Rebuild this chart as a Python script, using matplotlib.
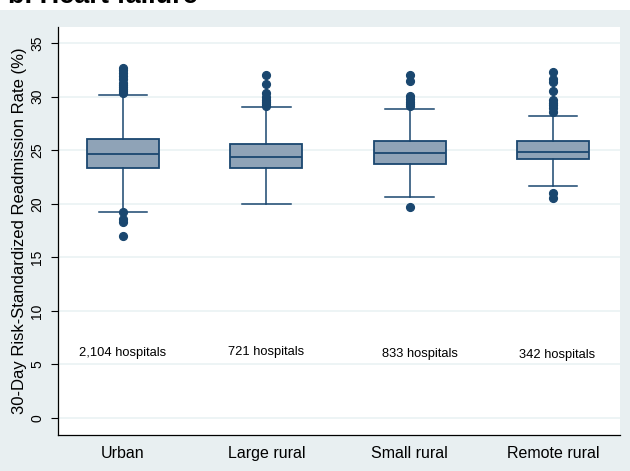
import matplotlib.pyplot as plt
from matplotlib.patches import Rectangle

plt.rcParams['font.family'] = ['Liberation Sans', 'DejaVu Sans']

# Data
groups = ['Urban', 'Large rural', 'Small rural', 'Remote rural']
q1 = [23.36, 23.30, 23.70, 24.14]
med = [24.64, 24.39, 24.73, 24.80]
q3 = [26.07, 25.55, 25.85, 25.88]
whislo = [19.23, 19.94, 20.60, 21.65]
whishi = [30.15, 29.00, 28.84, 28.16]
fliers = [
    [30.3, 30.5, 30.7, 30.9, 31.1, 31.3, 31.6, 31.9, 32.2, 32.5, 32.7,
     19.2, 18.6, 18.3, 17.0],
    [29.1, 29.3, 29.5, 29.7, 30.0, 30.3, 31.2, 32.0],
    [29.1, 29.3, 29.5, 29.8, 30.1, 31.5, 32.0, 19.7],
    [28.6, 28.9, 29.2, 29.4, 29.7, 30.55, 31.4, 31.65, 32.27, 21.03, 20.5],
]
n_labels = ['2,104 hospitals', '721 hospitals', '833 hospitals', '342 hospitals']
n_label_x = [1.0, 2.0, 3.07, 4.03]
n_label_y = [6.07, 6.15, 5.97, 5.88]

navy = '#1a476f'
fill = '#8fa3b7'
bg = '#e8eff1'

fig = plt.figure(figsize=(6.3, 4.71), dpi=100, facecolor='white')
fig.patches.append(Rectangle((0, 0), 1, 1 - 10 / 471, transform=fig.transFigure,
                             facecolor=bg, edgecolor='none', zorder=-10))
fig.text(8 / 630, 1 - 3 / 471, 'b. Heart failure', fontsize=19.5,
         fontweight='bold', va='baseline', ha='left')

ax = fig.add_axes([58 / 630, 1 - 435 / 471, 562 / 630, 408 / 471])
ax.set_facecolor('white')

stats = []
for i in range(len(groups)):
    stats.append(dict(med=med[i], q1=q1[i], q3=q3[i], whislo=whislo[i],
                      whishi=whishi[i], fliers=fliers[i], label=groups[i]))

ax.bxp(stats, positions=[1, 2, 3, 4], widths=0.5, patch_artist=True,
       boxprops=dict(facecolor=fill, edgecolor=navy, linewidth=1.3),
       medianprops=dict(color=navy, linewidth=1.3),
       whiskerprops=dict(color=navy, linewidth=1.1),
       capprops=dict(color=navy, linewidth=1.1),
       capwidths=0.34,
       flierprops=dict(marker='o', markerfacecolor=navy, markeredgecolor=navy,
                       markersize=5.6))

for x, y, t in zip(n_label_x, n_label_y, n_labels):
    ax.text(x, y, t, ha='center', va='center', fontsize=9.3)

ax.set_xlim(0.547, 4.467)
ax.set_ylim(-1.59, 36.5)
ax.set_yticks(range(0, 36, 5))
ax.set_yticklabels([str(v) for v in range(0, 36, 5)], rotation=90, va='center')
ax.tick_params(axis='y', length=5, width=0.8, pad=5, labelsize=10)
ax.tick_params(axis='x', length=0, pad=8, labelsize=11.5)
ax.set_ylabel('30-Day Risk-Standardized Readmission Rate (%)', fontsize=12, labelpad=2)
ax.yaxis.grid(True, color='#eaf2f3', linewidth=1.2)
ax.set_axisbelow(True)
for s in ['top', 'right']:
    ax.spines[s].set_visible(False)
for s in ['left', 'bottom']:
    ax.spines[s].set_linewidth(0.9)

fig.savefig('out.png', dpi=100, facecolor=fig.get_facecolor())
